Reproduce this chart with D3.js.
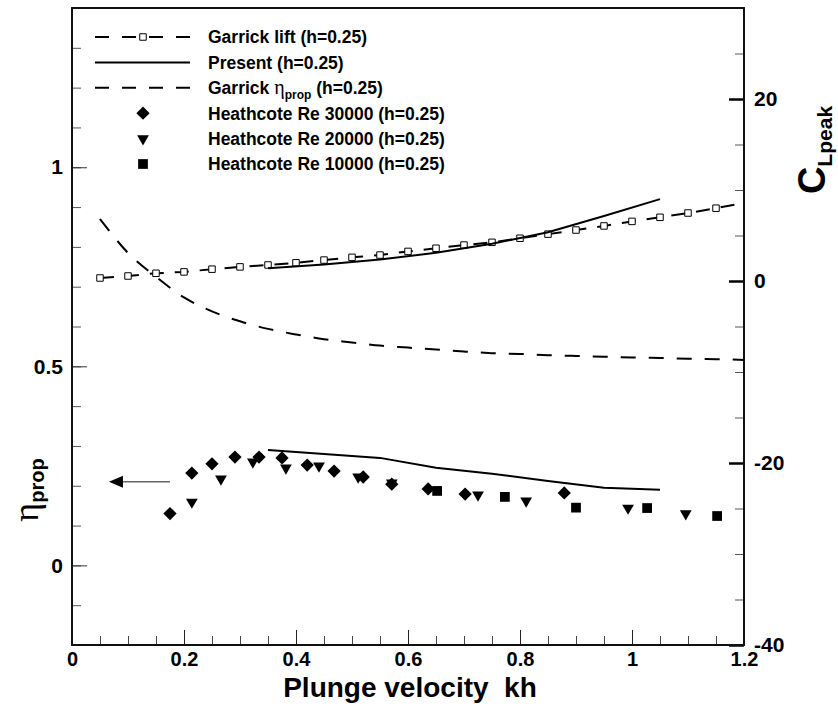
<!DOCTYPE html>
<html>
<head>
<meta charset="utf-8">
<title>Plunge velocity - propulsive efficiency and peak lift</title>
<script src="https://d3js.org/d3.v7.min.js"></script>
<style>
  html, body { margin: 0; background: #fff; }
  svg { display: block; }
  text { font-family: "Liberation Sans", Arial, sans-serif; font-weight: bold; fill: #000; white-space: pre; }
  .greek { font-family: "Liberation Serif", "Times New Roman", serif; font-weight: normal; }
</style>
</head>
<body>
<svg id="chart" width="838" height="709"></svg>
<script>
// Garrick theory (h=0.25), sampled along kh
const garrickK    = [0.05, 0.1, 0.15, 0.2, 0.25, 0.3, 0.35, 0.4, 0.45, 0.5, 0.55, 0.6,
                     0.65, 0.7, 0.75, 0.8, 0.85, 0.9, 0.95, 1.0, 1.05, 1.1, 1.15, 1.2];
const garrickLift = [0.33, 0.55, 0.85, 1.0, 1.3, 1.55, 1.76, 2.0, 2.3, 2.6, 2.85, 3.25,
                     3.6, 3.95, 4.25, 4.7, 5.15, 5.6, 6.05, 6.55, 7.0, 7.47, 8.0, 8.57];
const garrickEta  = [0.87, 0.785, 0.725, 0.673, 0.638, 0.613, 0.594, 0.58, 0.568, 0.56, 0.552, 0.547,
                     0.542, 0.537, 0.533, 0.531, 0.528, 0.526, 0.524, 0.522, 0.521, 0.519, 0.518, 0.516];

// present computation (h=0.25)
const presentK    = [0.35, 0.45, 0.55, 0.65, 0.75, 0.85, 0.95, 1.05];
const presentLift = [1.4, 1.8, 2.35, 3.1, 4.1, 5.35, 7.15, 9.0];
const presentEtaK = [0.35, 0.55, 0.65, 0.75, 0.85, 0.95, 1.05];
const presentEta  = [0.29, 0.27, 0.245, 0.23, 0.212, 0.195, 0.19];

// Heathcote experiments
const re30000K   = [0.175, 0.214, 0.25, 0.291, 0.334, 0.375, 0.42, 0.468, 0.52, 0.571, 0.636, 0.702, 0.879];
const re30000Eta = [0.13, 0.232, 0.255, 0.272, 0.272, 0.27, 0.252, 0.237, 0.222, 0.204, 0.192, 0.179, 0.182];
const re20000K   = [0.214, 0.266, 0.323, 0.382, 0.441, 0.511, 0.571, 0.725, 0.811, 0.993, 1.096];
const re20000Eta = [0.159, 0.217, 0.26, 0.245, 0.25, 0.222, 0.207, 0.177, 0.162, 0.144, 0.13];
const re10000K   = [0.652, 0.773, 0.9, 1.027, 1.152];
const re10000Eta = [0.187, 0.172, 0.145, 0.144, 0.124];

// axis ticks
const xMajor = [0, 0.2, 0.4, 0.6, 0.8, 1, 1.2];
const xLabels = ["0", "0.2", "0.4", "0.6", "0.8", "1", "1.2"];
const etaMajor = [0, 0.5, 1];
const etaLabels = ["0", "0.5", "1"];
const liftMajor = [-40, -20, 0, 20];
const liftLabels = ["-40", "-20", "0", "20"];

// arrow pointing at the left axis
const arrowK = [0.175, 0.066];
const arrowEta = 0.21;

const svg = d3.select("#chart");
const plotL = 72, plotR = 744, plotT = 8, plotB = 645;

const x = d3.scaleLinear().domain([0, 1.2]).range([plotL, plotR]);
const yEta = d3.scaleLinear().domain([-0.2, 1.4]).range([plotB, plotT]);
const yLift = d3.scaleLinear().domain([-40, 30]).range([plotB, plotT]);

svg.append("rect").attr("width", 838).attr("height", 709).attr("fill", "#fff");

// minor ticks
svg.append("g")
  .attr("transform", `translate(0,${plotB})`)
  .call(d3.axisBottom(x).tickValues(d3.range(1, 24).map(i => i * 0.05)).tickSize(-9).tickFormat(""))
  .call(g => g.select(".domain").remove())
  .call(g => g.selectAll("line").attr("stroke", "#444"));
svg.append("g")
  .attr("transform", `translate(${plotL},0)`)
  .call(d3.axisLeft(yEta).tickValues(d3.range(-1, 14).map(i => i * 0.1)).tickSize(-9).tickFormat(""))
  .call(g => g.select(".domain").remove())
  .call(g => g.selectAll("line").attr("stroke", "#555"));
svg.append("g")
  .attr("transform", `translate(${plotR},0)`)
  .call(d3.axisRight(yLift).tickValues(d3.range(-7, 6).map(i => i * 5)).tickSize(-9).tickFormat(""))
  .call(g => g.select(".domain").remove())
  .call(g => g.selectAll("line").attr("stroke", "#555"));

// major ticks with labels
svg.append("g")
  .attr("transform", `translate(0,${plotB})`)
  .call(d3.axisBottom(x).tickValues(xMajor).tickSize(-15).tickPadding(7)
        .tickFormat((d, i) => xLabels[i]))
  .call(g => g.select(".domain").remove())
  .call(g => g.selectAll("line").attr("stroke", "#222"))
  .call(g => g.selectAll("text").attr("font-size", 20).attr("font-family", null));
svg.append("g")
  .attr("transform", `translate(${plotL},0)`)
  .call(d3.axisLeft(yEta).tickValues(etaMajor).tickSize(-15).tickPadding(9)
        .tickFormat((d, i) => etaLabels[i]))
  .call(g => g.select(".domain").remove())
  .call(g => g.selectAll("line").attr("stroke", "#333"))
  .call(g => g.selectAll("text").attr("font-size", 21).attr("font-family", null));
svg.append("g")
  .attr("transform", `translate(${plotR},0)`)
  .call(d3.axisRight(yLift).tickValues(liftMajor).tickSize(-15).tickPadding(10)
        .tickFormat((d, i) => liftLabels[i]))
  .call(g => g.select(".domain").remove())
  .call(g => g.selectAll("line").attr("stroke", "#000").attr("stroke-width", 2.5))
  .call(g => g.selectAll("text").attr("font-size", 21).attr("font-family", null));

// frame
svg.append("rect")
  .attr("x", plotL).attr("y", plotT)
  .attr("width", plotR - plotL).attr("height", plotB - plotT)
  .attr("fill", "none").attr("stroke", "#111").attr("stroke-width", 2);

// curves
const lineLift = d3.line().x(d => x(d[0])).y(d => yLift(d[1]));
const lineEta = d3.line().x(d => x(d[0])).y(d => yEta(d[1]));
const smoothEta = d3.line().x(d => x(d[0])).y(d => yEta(d[1])).curve(d3.curveMonotoneX);

const gLift = d3.zip(garrickK, garrickLift);
svg.append("path").datum(gLift)
  .attr("d", lineLift).attr("fill", "none").attr("stroke", "#000")
  .attr("stroke-width", 2).attr("stroke-dasharray", "14,11");
svg.selectAll("path.gsq").data(gLift.slice(0, -1)).join("path")
  .attr("class", "gsq")
  .attr("d", d3.symbol(d3.symbolSquare, 42))
  .attr("transform", d => `translate(${x(d[0])},${yLift(d[1])})`)
  .attr("fill", "#fff").attr("stroke", "#000").attr("stroke-width", 1);

svg.append("path").datum(d3.zip(presentK, presentLift))
  .attr("d", lineLift).attr("fill", "none").attr("stroke", "#000").attr("stroke-width", 2);

svg.append("path").datum(d3.zip(garrickK, garrickEta))
  .attr("d", smoothEta).attr("fill", "none").attr("stroke", "#000")
  .attr("stroke-width", 2).attr("stroke-dasharray", "15,13");

svg.append("path").datum(d3.zip(presentEtaK, presentEta))
  .attr("d", lineEta).attr("fill", "none").attr("stroke", "#000").attr("stroke-width", 2);

// Heathcote markers
const diamond = d3.symbol(d3.symbolSquare, 88)();
const triangle = d3.symbol(d3.symbolTriangle, 60)();
const square = d3.symbol(d3.symbolSquare, 95)();

svg.selectAll("path.re30").data(d3.zip(re30000K, re30000Eta)).join("path")
  .attr("class", "re30").attr("d", diamond)
  .attr("transform", d => `translate(${x(d[0])},${yEta(d[1])}) rotate(45)`);
svg.selectAll("path.re20").data(d3.zip(re20000K, re20000Eta)).join("path")
  .attr("class", "re20").attr("d", triangle)
  .attr("transform", d => `translate(${x(d[0])},${yEta(d[1])}) rotate(180)`);
svg.selectAll("path.re10").data(d3.zip(re10000K, re10000Eta)).join("path")
  .attr("class", "re10").attr("d", square)
  .attr("transform", d => `translate(${x(d[0])},${yEta(d[1])})`);

// arrow
svg.append("line")
  .attr("x1", x(arrowK[0])).attr("x2", x(arrowK[1]) + 12)
  .attr("y1", yEta(arrowEta)).attr("y2", yEta(arrowEta))
  .attr("stroke", "#666").attr("stroke-width", 1.5);
svg.append("path")
  .attr("d", `M${x(arrowK[1])},${yEta(arrowEta)} l14,-6 l0,12 z`)
  .attr("fill", "#000");

// legend
const legend = svg.append("g");
const legendY = i => 37 + i * 25.4;
const lx0 = 95, lx1 = 190, lxm = 143, tx = 208;

legend.append("line").attr("x1", lx0).attr("x2", lx1).attr("y1", legendY(0)).attr("y2", legendY(0))
  .attr("stroke", "#000").attr("stroke-width", 2).attr("stroke-dasharray", "14,13");
legend.append("path").attr("d", d3.symbol(d3.symbolSquare, 42))
  .attr("transform", `translate(${lxm},${legendY(0)})`)
  .attr("fill", "#fff").attr("stroke", "#000");
legend.append("line").attr("x1", lx0).attr("x2", lx1).attr("y1", legendY(1)).attr("y2", legendY(1))
  .attr("stroke", "#000").attr("stroke-width", 2);
legend.append("line").attr("x1", lx0).attr("x2", lx1).attr("y1", legendY(2)).attr("y2", legendY(2))
  .attr("stroke", "#000").attr("stroke-width", 2).attr("stroke-dasharray", "14,13");
legend.append("path").attr("d", diamond).attr("transform", `translate(${lxm},${legendY(3)}) rotate(45)`);
legend.append("path").attr("d", triangle).attr("transform", `translate(${lxm},${legendY(4)}) rotate(180)`);
legend.append("path").attr("d", square).attr("transform", `translate(${lxm},${legendY(5)})`);

const legendText = ["Garrick lift (h=0.25)", "Present (h=0.25)", null,
                    "Heathcote Re 30000 (h=0.25)", "Heathcote Re 20000 (h=0.25)", "Heathcote Re 10000 (h=0.25)"];
legendText.forEach((t, i) => {
  if (!t) return;
  legend.append("text").attr("x", tx).attr("y", legendY(i)).attr("dy", "0.36em")
    .attr("font-size", 17.5).text(t);
});
const gEtaText = legend.append("text").attr("x", tx).attr("y", legendY(2)).attr("dy", "0.36em")
  .attr("font-size", 17.5);
gEtaText.append("tspan").text("Garrick ");
gEtaText.append("tspan").attr("class", "greek").attr("font-size", 20).text("η");
gEtaText.append("tspan").attr("font-size", 12).attr("dy", 5).text("prop");
gEtaText.append("tspan").attr("dy", -5).text(" (h=0.25)");

// axis titles
svg.append("text").attr("x", 410).attr("y", 697).attr("text-anchor", "middle")
  .attr("font-size", 28).text("Plunge velocity  kh");

const etaTitle = svg.append("text").attr("transform", "translate(38,490) rotate(-90)")
  .attr("text-anchor", "middle");
etaTitle.append("tspan").attr("class", "greek").attr("font-size", 36).text("η");
etaTitle.append("tspan").attr("font-size", 20).attr("dy", 6).text("prop");

const liftTitle = svg.append("text").attr("transform", "translate(825,150) rotate(-90)")
  .attr("text-anchor", "middle");
liftTitle.append("tspan").attr("font-size", 38).text("C");
liftTitle.append("tspan").attr("font-size", 21).attr("dy", 7).text("Lpeak");
</script>
</body>
</html>
